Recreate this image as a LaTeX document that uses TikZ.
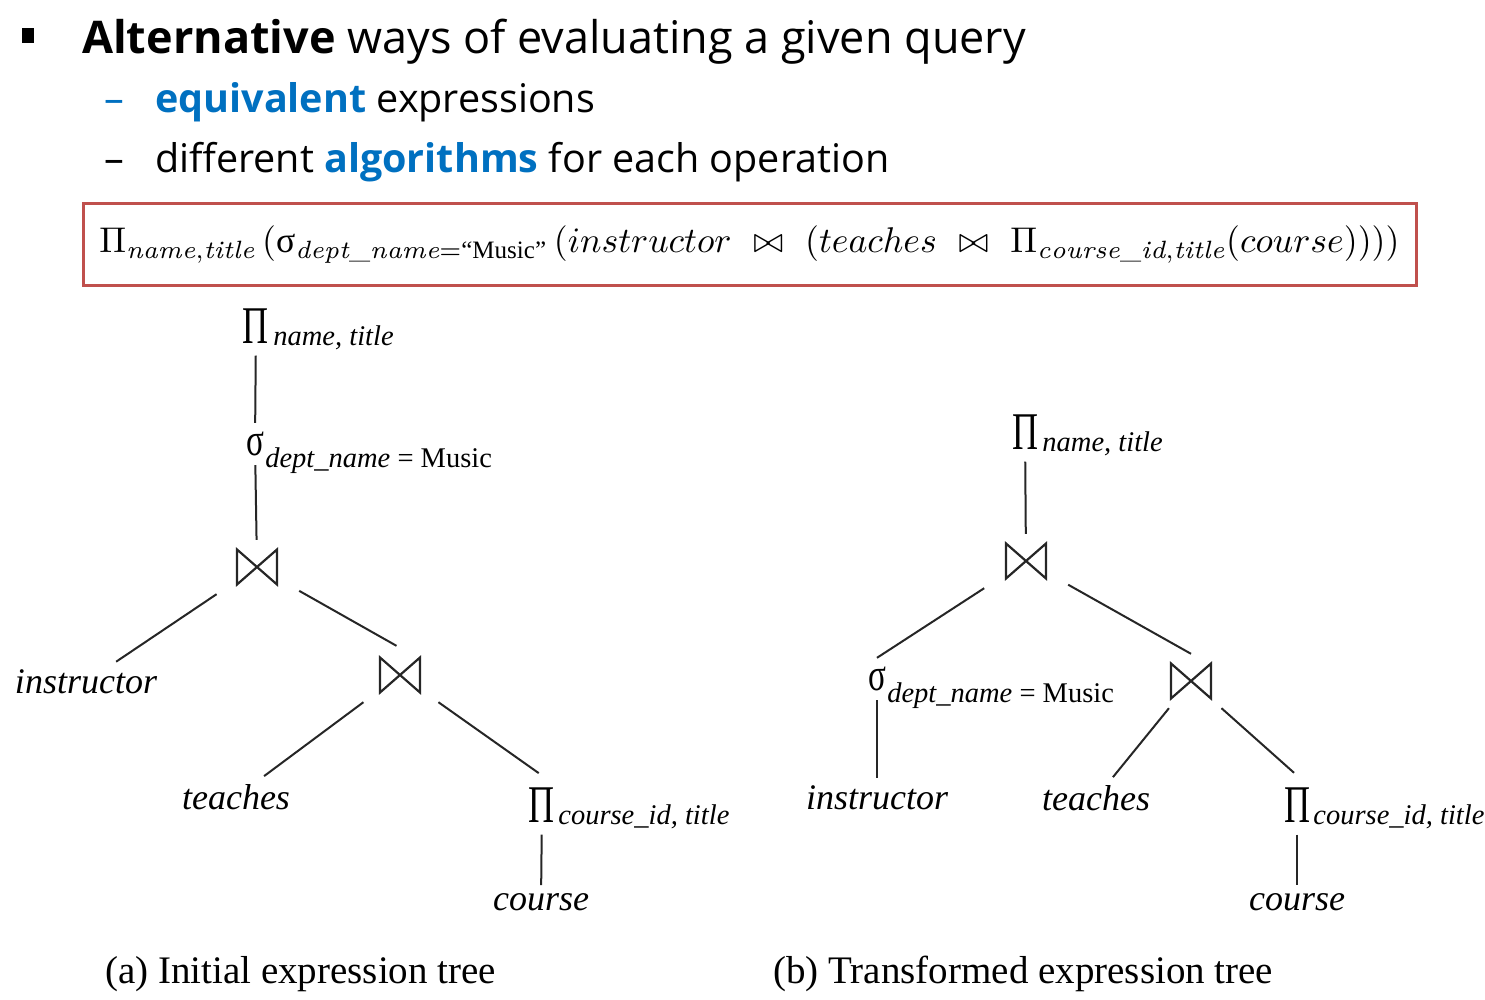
\documentclass[tikz,border=0pt]{standalone}
\usepackage{amsmath, amssymb}
\usepackage{graphicx}
\usepackage{fontspec}
\usepackage{tikz}
\usetikzlibrary{positioning}
\newfontfamily\slidefont{Open Sans}
\newfontfamily\treefont{Liberation Serif}
\definecolor{slideblue}{HTML}{0070C0}
\definecolor{boxred}{HTML}{C0504D}
\newcommand{\projsym}{\scalebox{0.68}[1]{Π}}
\newcommand{\selsym}{\scalebox{0.72}[1]{σ}}
\tikzstyle{bullettext}=[anchor=base west, inner sep=0pt, font=\slidefont\fontsize{39.5}{48}\selectfont]
\tikzstyle{leaf}=[font=\treefont\itshape\fontsize{36}{36}\selectfont, inner xsep=2pt, inner ysep=8pt]
\tikzstyle{opsym}=[font=\treefont\fontsize{53}{53}\selectfont, inner xsep=3pt, inner ysep=12pt]
\tikzstyle{sigsym}=[font=\treefont\fontsize{46}{46}\selectfont, inner xsep=2pt, inner ysep=9pt]
\tikzstyle{subtxt}=[anchor=base west, inner sep=0pt, font=\treefont\fontsize{28.5}{29}\selectfont]
\tikzstyle{joinop}=[minimum width=84pt, minimum height=54pt, inner sep=0pt,
  path picture={\draw[line width=2.2pt, black!85, shift={(path picture bounding box.center)}]
    (-20,-17.5) -- (20,17.5) -- (20,-17.5) -- (-20,17.5) -- cycle;}]
\tikzstyle{branch}=[line width=2pt, black!85]
\tikzstyle{caption}=[anchor=base west, inner sep=0pt, font=\treefont\fontsize{39}{39}\selectfont]
\begin{document}
\begin{tikzpicture}[x=1pt, y=-1pt]
	\useasboundingbox (0,0) rectangle (1485,1000);
	% bullet list
	\node[fill=black, minimum width=12pt, minimum height=15pt, inner sep=0pt] (bul) at (28,36) {};
	\node[bullettext, font=\slidefont\fontsize{45}{52}\selectfont] (l1) at (82,54) {\textbf{Alternative} ways of evaluating a given query};
	\node[bullettext] (d2) at (104,113) {\color{slideblue}–};
	\node[bullettext] (l2) at (155,113) {\textcolor{slideblue}{\textbf{equivalent}} expressions};
	\node[bullettext] (d3) at (104,173) {–};
	\node[bullettext] (l3) at (155,173) {different \textcolor{slideblue}{\textbf{algorithms}} for each operation};

	% query in the red box
	\node[draw=boxred, line width=3pt, minimum width=1333pt, minimum height=81pt, inner sep=0pt] (query) at (749.5,244.5)
		{\resizebox{1300pt}{!}{$\Pi_{\mathit{name},\mathit{title}}\,(\text{\treefont σ}_{\mathit{dept\_name}=\text{\treefont “Music”}}\,(instructor\ \bowtie\ (teaches\ \bowtie\ \Pi_{\mathit{course\_id},\mathit{title}}(course))))$}};

	% (a) initial tree
	\node[opsym] (pa) at (256,326) {\projsym};
	\node[subtxt] (pasub) at ([xshift=1pt, yshift=-2pt]pa.base east) {\itshape name, title};
	\node[sigsym] (sa) at (255,444) {\selsym};
	\node[subtxt] (sasub) at ([xshift=-1pt, yshift=-12pt]sa.base east) {\itshape dept\_name\upshape{} = Music};
	\node[joinop] (ja) at (257,567) {};
	\node[leaf] (instra) at (86,682) {instructor};
	\node[joinop] (jb) at (400,675) {};
	\node[leaf] (teacha) at (236,797) {teaches};
	\node[opsym] (pb) at (542,805) {\projsym};
	\node[subtxt] (pbsub) at ([xshift=0pt, yshift=-2pt]pb.base east) {\itshape course\_id, title};
	\node[leaf] (coursea) at (541,902) {course};
	\node[caption] (capa) at (105,983) {(a) Initial expression tree};

	\draw[branch] (pa) -- (sa);
	\draw[branch] (sa) -- (ja);
	\draw[branch] (ja) -- (instra);
	\draw[branch, shorten >=4pt] (ja) -- (jb.north);
	\draw[branch] (jb) -- (teacha);
	\draw[branch, shorten >=4pt] (jb) -- (pb.north);
	\draw[branch] (pb) -- (coursea);

	% (b) transformed tree
	\node[opsym] (pc) at (1025,432) {\projsym};
	\node[subtxt] (pcsub) at ([xshift=1pt, yshift=-2pt]pc.base east) {\itshape name, title};
	\node[joinop] (jc) at (1026,561) {};
	\node[sigsym] (sb) at (877,679) {\selsym};
	\node[subtxt] (sbsub) at ([xshift=-1pt, yshift=-12pt]sb.base east) {\itshape dept\_name\upshape{} = Music};
	\node[joinop] (jd) at (1191,681) {};
	\node[leaf] (instrb) at (877,798) {instructor};
	\node[leaf] (teachb) at (1096,798) {teaches};
	\node[opsym] (pd) at (1297,805) {\projsym};
	\node[subtxt] (pdsub) at ([xshift=0pt, yshift=-2pt]pd.base east) {\itshape course\_id, title};
	\node[leaf] (courseb) at (1297,902) {course};
	\node[caption] (capb) at (773,983) {(b) Transformed expression tree};

	\draw[branch] (pc) -- (jc);
	\draw[branch] (jc) -- (sb.north);
	\draw[branch] (jc) -- (jd.north);
	\draw[branch] (sb) -- (instrb);
	\draw[branch] (jd) -- (teachb);
	\draw[branch, shorten >=4pt] (jd) -- (pd.north);
	\draw[branch] (pd) -- (courseb);
\end{tikzpicture}
\end{document}
